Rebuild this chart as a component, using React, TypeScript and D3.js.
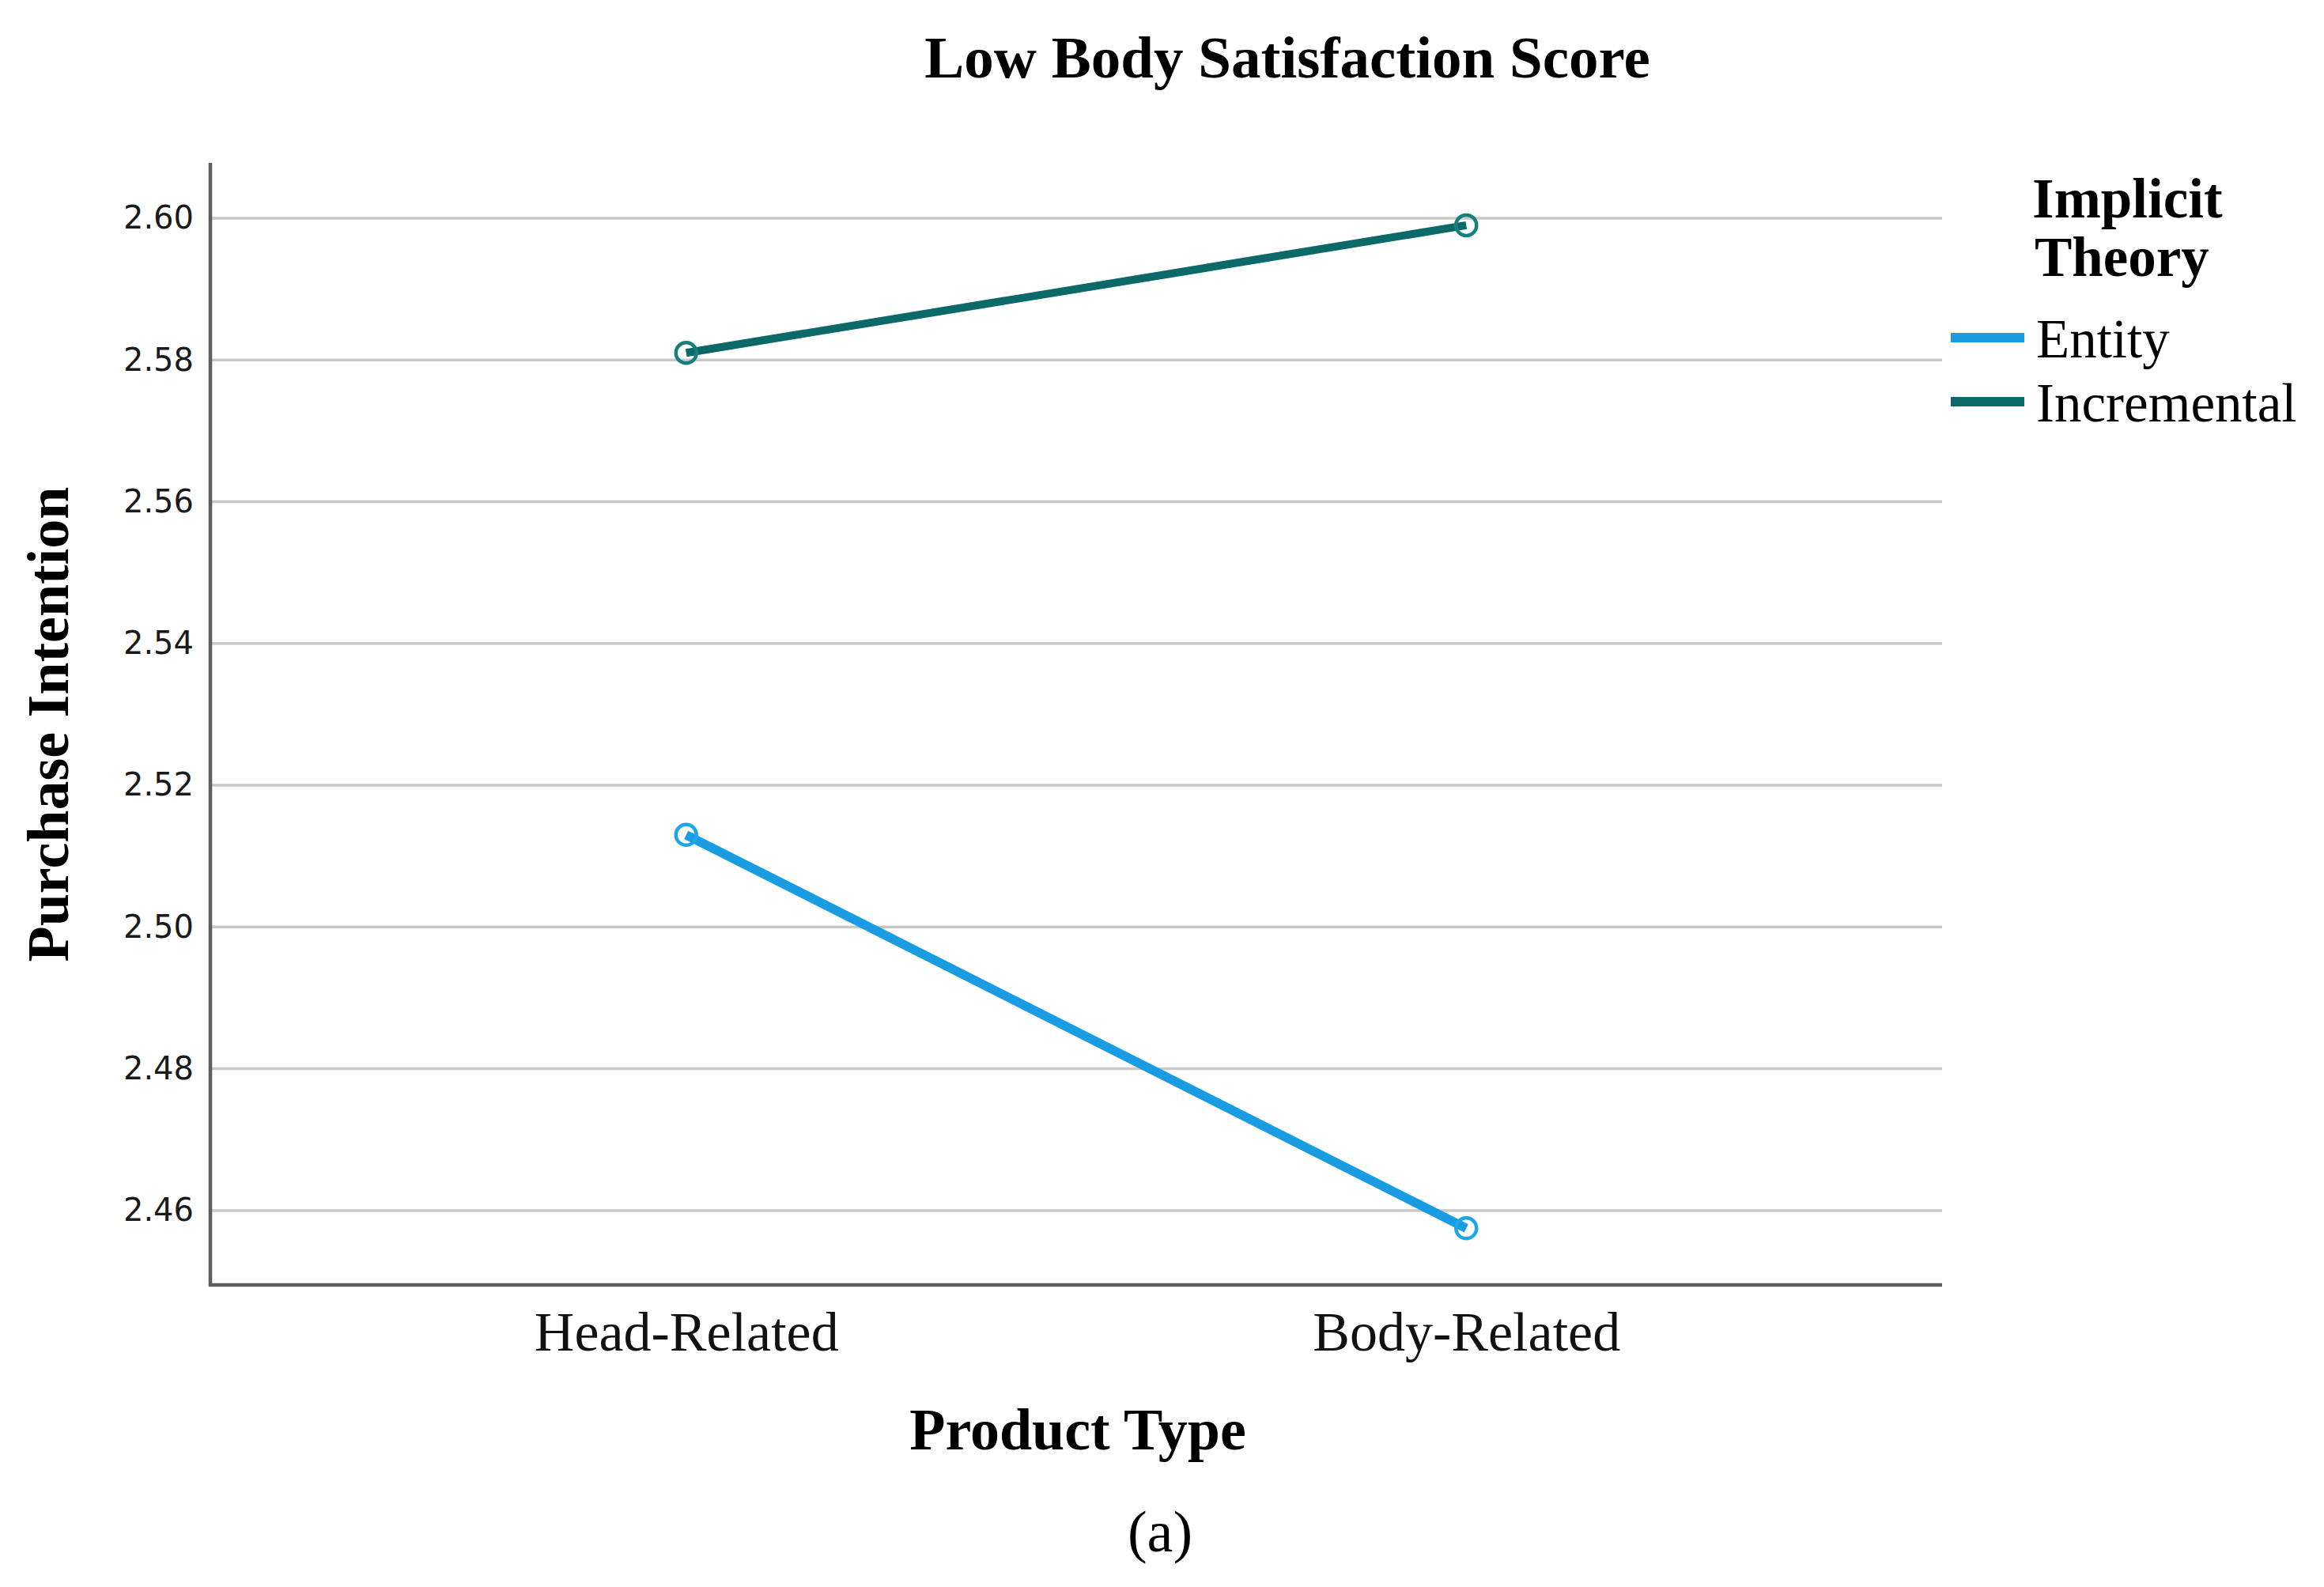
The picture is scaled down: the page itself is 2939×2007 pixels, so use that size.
import React, { useEffect, useRef } from 'react';
import * as d3 from 'd3';

const categories = ['Head-Related', 'Body-Related'];
const seriesNames = ['Entity', 'Incremental'];
const entityValues = [2.513, 2.4575];
const incrementalValues = [2.581, 2.599];
const yTicks = [2.46, 2.48, 2.5, 2.52, 2.54, 2.56, 2.58, 2.6];
const colors = ['#1a9ce3', '#0b6a69'];
const markerColors = ['#1fa6ea', '#17807e'];

const serif = '"Liberation Serif", "Times New Roman", serif';
const sans = '"DejaVu Sans", Verdana, sans-serif';

export default () => {
  const svgRef = useRef<SVGSVGElement>(null);

  useEffect(() => {
    document.body.style.margin = '0';
    if (!svgRef.current) return;

    const svg = d3.select(svgRef.current);
    svg.selectAll('*').remove();

    const left = 266;
    const right = 2456;
    const top = 206;
    const bottom = 1625;

    const x = d3.scalePoint<string>()
      .domain(categories)
      .range([left, right])
      .padding(0.61);

    const y = d3.scaleLinear()
      .domain([2.4495, 2.6078])
      .range([bottom, top]);

    // grid lines
    svg.append('g')
      .selectAll('line')
      .data(yTicks)
      .enter()
      .append('line')
      .attr('x1', left)
      .attr('x2', right)
      .attr('y1', d => y(d))
      .attr('y2', d => y(d))
      .attr('stroke', '#c9c9c9')
      .attr('stroke-width', 3.5);

    // y axis labels
    const yAxis = d3.axisLeft(y)
      .tickValues(yTicks)
      .tickFormat(d3.format('.2f') as any)
      .tickSize(0)
      .tickPadding(21);

    const yg = svg.append('g')
      .attr('transform', `translate(${left}, 0)`)
      .call(yAxis);
    yg.select('.domain').remove();
    yg.selectAll('text')
      .attr('font-family', sans)
      .attr('font-size', 40)
      .attr('fill', '#1a1a1a');

    // x axis labels
    const xAxis = d3.axisBottom(x).tickSize(0).tickPadding(33);
    const xg = svg.append('g')
      .attr('transform', `translate(0, ${bottom})`)
      .call(xAxis);
    xg.select('.domain').remove();
    xg.selectAll('text')
      .attr('font-family', serif)
      .attr('font-size', 70)
      .attr('fill', '#111')
      .attr('dy', '0.71em');

    // axis frame (left + bottom)
    svg.append('path')
      .attr('d', `M${left},${top}V${bottom}H${right}`)
      .attr('fill', 'none')
      .attr('stroke', '#5e5e5e')
      .attr('stroke-width', 4.5);

    const series = [entityValues, incrementalValues];
    const line = d3.line<number>()
      .x((d, i) => x(categories[i]) as number)
      .y(d => y(d));

    series.forEach((vals, s) => {
      svg.append('path')
        .datum(vals)
        .attr('d', line)
        .attr('fill', 'none')
        .attr('stroke', colors[s])
        .attr('stroke-width', s === 0 ? 11.5 : 10);

      svg.append('g')
        .selectAll('circle')
        .data(vals)
        .enter()
        .append('circle')
        .attr('cx', (d, i) => x(categories[i]) as number)
        .attr('cy', d => y(d))
        .attr('r', 13)
        .attr('fill', 'none')
        .attr('stroke', markerColors[s])
        .attr('stroke-width', 4.5);
    });

    // title
    svg.append('text')
      .attr('x', 1628)
      .attr('y', 98)
      .attr('text-anchor', 'middle')
      .attr('font-family', serif)
      .attr('font-weight', 'bold')
      .attr('font-size', 75)
      .text('Low Body Satisfaction Score');

    // axis titles
    svg.append('text')
      .attr('x', 1363)
      .attr('y', 1833)
      .attr('text-anchor', 'middle')
      .attr('font-family', serif)
      .attr('font-weight', 'bold')
      .attr('font-size', 74)
      .text('Product Type');

    svg.append('text')
      .attr('transform', 'translate(86, 916) rotate(-90)')
      .attr('text-anchor', 'middle')
      .attr('font-family', serif)
      .attr('font-weight', 'bold')
      .attr('font-size', 74)
      .text('Purchase Intention');

    svg.append('text')
      .attr('x', 1467)
      .attr('y', 1962)
      .attr('text-anchor', 'middle')
      .attr('font-family', serif)
      .attr('font-size', 74)
      .text('(a)');

    // legend
    const legend = svg.append('g');
    legend.append('text')
      .attr('x', 2570)
      .attr('y', 275)
      .attr('font-family', serif)
      .attr('font-weight', 'bold')
      .attr('font-size', 71)
      .text('Implicit');
    legend.append('text')
      .attr('x', 2573)
      .attr('y', 349)
      .attr('font-family', serif)
      .attr('font-weight', 'bold')
      .attr('font-size', 71)
      .text('Theory');

    const items = legend.selectAll('g.item')
      .data(seriesNames)
      .enter()
      .append('g')
      .attr('class', 'item')
      .attr('transform', (d, i) => `translate(0, ${427 + i * 81})`);

    items.append('line')
      .attr('x1', 2467)
      .attr('x2', 2560)
      .attr('stroke', (d, i) => colors[i])
      .attr('stroke-width', 12);

    items.append('text')
      .attr('x', 2575)
      .attr('y', 25)
      .attr('font-family', serif)
      .attr('font-size', 69)
      .text(d => d);
  }, []);

  return (
    <div>
      <svg ref={svgRef} width={2939} height={2007} style={{ display: 'block', background: '#fff' }} />
    </div>
  );
}
